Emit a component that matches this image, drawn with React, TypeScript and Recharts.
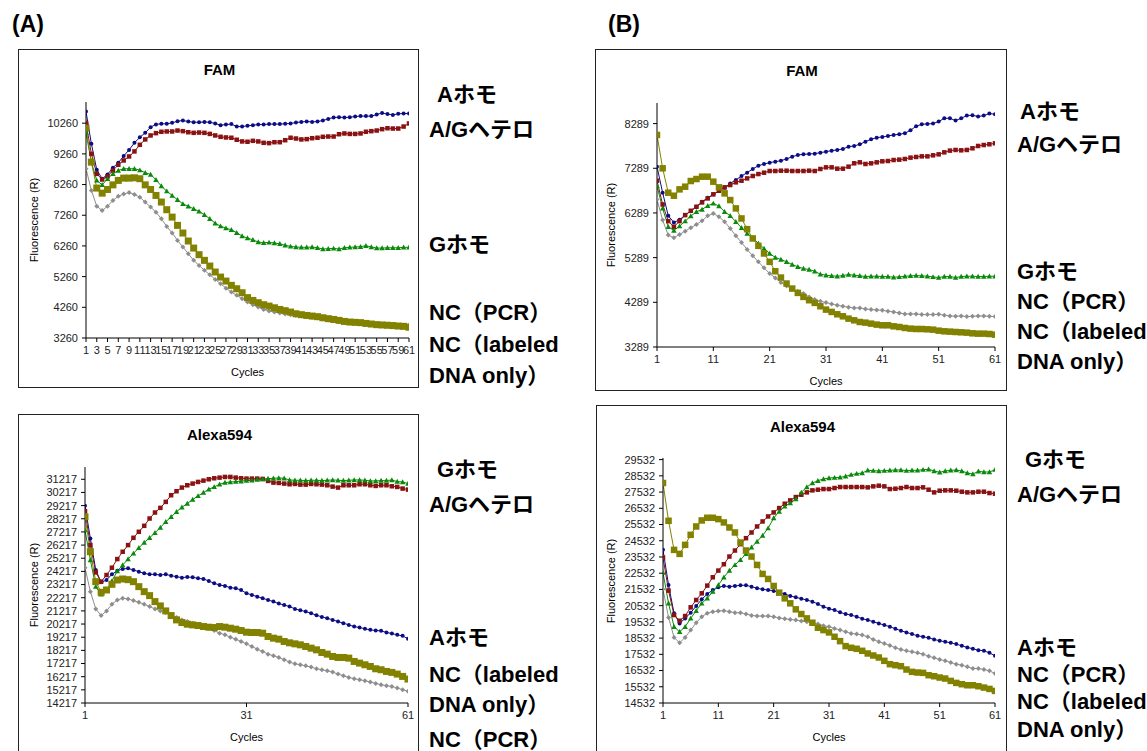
import React from 'react'
import { LineChart, Line, XAxis, YAxis } from 'recharts'

const cycles = Array.from({ length: 61 }, (_, i) => i + 1)

// (A) FAM
const famA_homoA = [
  10640, 9590, 8740, 8450, 8590, 8810, 8970, 9190, 9390, 9620,
  9800, 9945, 10130, 10220, 10240, 10240, 10270, 10325, 10345, 10315,
  10290, 10290, 10300, 10290, 10250, 10195, 10215, 10230, 10150, 10150,
  10175, 10195, 10215, 10215, 10230, 10230, 10230, 10240, 10250, 10280,
  10300, 10315, 10300, 10315, 10345, 10400, 10445, 10455, 10445, 10455,
  10475, 10490, 10490, 10490, 10540, 10595, 10555, 10530, 10565, 10575, 10575,
]
const famA_hetero = [
  10270, 9260, 8610, 8425, 8525, 8720, 8905, 9045, 9175, 9340,
  9555, 9730, 9860, 9935, 9980, 9990, 9990, 10020, 10000, 9965,
  9945, 9955, 9945, 9910, 9860, 9815, 9795, 9785, 9720, 9665,
  9655, 9685, 9665, 9620, 9610, 9640, 9640, 9705, 9785, 9760,
  9730, 9740, 9770, 9785, 9815, 9825, 9825, 9900, 9925, 9910,
  9910, 9925, 9980, 10000, 10020, 10065, 10095, 10085, 10085, 10150, 10250,
]
const famA_homoG = [
  9945, 8990, 8395, 8250, 8450, 8610, 8720, 8775, 8775, 8775,
  8730, 8645, 8590, 8415, 8210, 8045, 7905, 7765, 7630, 7555,
  7470, 7385, 7275, 7145, 7000, 6905, 6840, 6785, 6690, 6580,
  6515, 6460, 6385, 6365, 6375, 6355, 6330, 6280, 6245, 6225,
  6215, 6215, 6225, 6200, 6160, 6170, 6180, 6160, 6200, 6215,
  6225, 6235, 6265, 6225, 6190, 6190, 6200, 6200, 6200, 6215, 6215,
]
const famA_ncPcr = [
  8775, 8070, 7555, 7415, 7555, 7740, 7880, 7950, 8000, 7935,
  7850, 7690, 7525, 7360, 7145, 6895, 6680, 6440, 6225, 6005,
  5790, 5625, 5465, 5320, 5170, 5030, 4885, 4755, 4650, 4540,
  4430, 4345, 4270, 4190, 4140, 4105, 4075, 4040, 4020, 3995,
  3975, 3955, 3930, 3910, 3880, 3845, 3825, 3790, 3770, 3760,
  3750, 3735, 3715, 3705, 3695, 3685, 3675, 3675, 3675, 3675, 3675,
]
const famA_ncLabeled = [
  10100, 8990, 8145, 7980, 8100, 8250, 8395, 8470, 8470, 8480,
  8450, 8250, 8100, 7905, 7690, 7440, 7200, 6930, 6680, 6420,
  6190, 5975, 5790, 5605, 5410, 5245, 5115, 4975, 4865, 4735,
  4575, 4485, 4410, 4345, 4300, 4245, 4190, 4150, 4105, 4050,
  4020, 3995, 3975, 3955, 3920, 3890, 3865, 3835, 3800, 3780,
  3770, 3760, 3735, 3715, 3695, 3685, 3675, 3665, 3650, 3640, 3610,
]

// (B) FAM
const famB_homoA = [
  7325, 6742, 6226, 6077, 6137, 6241, 6331, 6428, 6540, 6630,
  6705, 6779, 6854, 6951, 7026, 7116, 7190, 7273, 7347, 7385,
  7415, 7437, 7459, 7497, 7549, 7586, 7601, 7609, 7616, 7639,
  7661, 7684, 7699, 7721, 7773, 7788, 7826, 7885, 7938, 7975,
  7990, 8012, 8035, 8050, 8072, 8140, 8229, 8274, 8282, 8289,
  8334, 8409, 8409, 8356, 8409, 8468, 8476, 8446, 8468, 8513, 8498,
]
const famB_hetero = [
  7011, 6480, 6106, 5980, 6106, 6241, 6338, 6428, 6525, 6615,
  6705, 6787, 6862, 6914, 6974, 7011, 7063, 7116, 7160, 7190,
  7228, 7228, 7235, 7235, 7228, 7228, 7228, 7235, 7228, 7273,
  7310, 7310, 7280, 7280, 7325, 7400, 7422, 7385, 7400, 7422,
  7445, 7452, 7474, 7482, 7497, 7527, 7542, 7556, 7556, 7579,
  7601, 7646, 7684, 7699, 7691, 7699, 7736, 7788, 7810, 7826, 7848,
]
const famB_homoG = [
  6899, 6391, 5980, 5897, 5994, 6106, 6219, 6316, 6368, 6450,
  6503, 6443, 6316, 6226, 6092, 5957, 5830, 5733, 5606, 5494,
  5382, 5292, 5247, 5195, 5135, 5083, 5045, 5023, 4985, 4918,
  4896, 4881, 4873, 4888, 4911, 4896, 4881, 4866, 4873, 4873,
  4866, 4866, 4851, 4858, 4873, 4881, 4888, 4881, 4873, 4858,
  4843, 4866, 4866, 4843, 4866, 4873, 4873, 4866, 4866, 4873, 4873,
]
const famB_ncPcr = [
  6592, 6129, 5793, 5733, 5808, 5882, 5957, 6032, 6114, 6226,
  6278, 6204, 6092, 5942, 5778, 5628, 5471, 5329, 5195, 5060,
  4933, 4836, 4732, 4657, 4582, 4537, 4485, 4410, 4350, 4313,
  4283, 4253, 4223, 4201, 4178, 4163, 4163, 4141, 4126, 4119,
  4111, 4089, 4074, 4051, 4029, 4029, 4029, 4014, 4014, 4014,
  4021, 3999, 3984, 3976, 3984, 3969, 3976, 3984, 3984, 3976, 3969,
]
const famB_ncLabeled = [
  8035, 7288, 6742, 6675, 6817, 6877, 7004, 7048, 7101, 7101,
  6989, 6862, 6727, 6578, 6391, 6166, 5927, 5718, 5553, 5382,
  5195, 4985, 4843, 4709, 4597, 4500, 4410, 4336, 4276, 4201,
  4126, 4074, 4021, 3976, 3924, 3886, 3849, 3834, 3812, 3790,
  3775, 3775, 3752, 3737, 3715, 3700, 3692, 3692, 3685, 3677,
  3655, 3640, 3633, 3625, 3618, 3610, 3595, 3588, 3588, 3580, 3565,
]

// (A) Alexa594
const alexaA_homoA = [
  29196, 26720, 24320, 23386, 23563, 23993, 24270, 24397, 24447, 24320,
  24195, 24068, 23993, 23993, 23942, 23993, 23891, 23816, 23740, 23790,
  23765, 23690, 23640, 23487, 23310, 23185, 23108, 22982, 22932, 22806,
  22553, 22427, 22300, 22174, 22048, 21921, 21770, 21668, 21543, 21366,
  21264, 21163, 21037, 20885, 20760, 20658, 20532, 20406, 20280, 20153,
  20027, 19951, 19850, 19775, 19724, 19699, 19573, 19497, 19396, 19320, 19092,
]
const alexaA_hetero = [
  28792, 26215, 24144, 23437, 23942, 24498, 25154, 25710, 26215, 26771,
  27226, 27680, 28236, 28691, 29045, 29499, 30005, 30308, 30586, 30762,
  30889, 31015, 31116, 31217, 31293, 31343, 31394, 31394, 31343, 31293,
  31268, 31268, 31268, 31242, 31091, 30964, 30939, 30889, 30838, 30863,
  30813, 30813, 30863, 30838, 30813, 30762, 30661, 30586, 30762, 30762,
  30762, 30838, 30838, 30762, 30712, 30762, 30762, 30687, 30636, 30510, 30434,
]
const alexaA_homoG = [
  27352, 25079, 23058, 22477, 22755, 23487, 24245, 24700, 25154, 25584,
  26013, 26417, 26771, 27150, 27554, 27984, 28363, 28742, 29095, 29373,
  29676, 29954, 30207, 30459, 30636, 30838, 30964, 31015, 31040, 31065,
  31116, 31141, 31192, 31242, 31268, 31293, 31318, 31293, 31166, 31141,
  31141, 31116, 31141, 31141, 31116, 31141, 31166, 31141, 31116, 31141,
  31166, 31166, 31141, 31091, 31091, 31116, 31116, 31166, 31040, 31015, 30889,
]
const alexaA_ncPcr = [
  24498, 22679, 21365, 20860, 21214, 21719, 22048, 22174, 22124, 21997,
  21871, 21719, 21543, 21365, 21214, 21088, 20911, 20709, 20532, 20406,
  20280, 20153, 20027, 19901, 19724, 19522, 19396, 19218, 19067, 18890,
  18713, 18511, 18309, 18132, 17930, 17804, 17677, 17500, 17323, 17197,
  17121, 17045, 16944, 16818, 16743, 16667, 16566, 16414, 16288, 16162,
  16061, 15985, 15910, 15809, 15708, 15606, 15531, 15480, 15354, 15228, 15101,
]
const alexaA_ncLabeled = [
  28363, 25710, 23437, 22629, 22806, 23235, 23563, 23640, 23589, 23437,
  23058, 22679, 22376, 21921, 21593, 21214, 20860, 20532, 20330, 20204,
  20153, 20103, 20027, 19977, 19951, 20027, 19977, 19901, 19825, 19724,
  19597, 19573, 19573, 19522, 19269, 19143, 19067, 18890, 18789, 18713,
  18637, 18511, 18385, 18258, 18056, 17930, 17753, 17677, 17677, 17627,
  17374, 17248, 17121, 16995, 16818, 16743, 16616, 16541, 16414, 16237, 16035,
]

// (B) Alexa594
const alexaB_homoA = [
  23970, 21807, 20056, 19438, 19747, 20097, 20509, 20921, 21251, 21498,
  21663, 21745, 21704, 21745, 21786, 21786, 21704, 21601, 21539, 21498,
  21436, 21354, 21251, 21127, 21045, 20962, 20880, 20777, 20633, 20468,
  20344, 20262, 20118, 20015, 19953, 19850, 19726, 19644, 19541, 19438,
  19335, 19232, 19108, 18985, 18882, 18779, 18676, 18614, 18552, 18449,
  18367, 18305, 18243, 18161, 18058, 17955, 17872, 17790, 17749, 17625, 17440,
]
const alexaB_hetero = [
  23496, 21457, 19953, 19603, 19891, 20427, 20880, 21292, 21766, 22281,
  22693, 23084, 23558, 23929, 24320, 24691, 25041, 25412, 25721, 26030,
  26277, 26545, 26813, 27019, 27225, 27369, 27513, 27637, 27678, 27719,
  27719, 27781, 27843, 27843, 27843, 27843, 27843, 27822, 27884, 27925,
  27884, 27719, 27740, 27781, 27843, 27781, 27781, 27822, 27678, 27513,
  27616, 27637, 27637, 27616, 27554, 27513, 27513, 27554, 27554, 27472, 27431,
]
const alexaB_homoG = [
  22569, 20674, 19232, 18923, 19232, 19747, 20221, 20674, 20983, 21395,
  21807, 22281, 22693, 23043, 23352, 23723, 24135, 24485, 24856, 25309,
  25927, 26339, 26648, 26854, 27101, 27513, 27843, 28090, 28234, 28337,
  28399, 28420, 28440, 28502, 28605, 28667, 28708, 28873, 28852, 28832,
  28852, 28873, 28893, 28893, 28852, 28873, 28873, 28914, 28935, 28832,
  28749, 28832, 28873, 28893, 28832, 28708, 28646, 28811, 28770, 28770, 28914,
]
const alexaB_ncPcr = [
  21539, 19809, 18573, 18244, 18573, 19026, 19479, 19850, 20056, 20159,
  20200, 20221, 20159, 20097, 20097, 20015, 19932, 19891, 19891, 19891,
  19850, 19768, 19726, 19685, 19644, 19582, 19541, 19479, 19397, 19294,
  19232, 19129, 19026, 18923, 18820, 18779, 18717, 18614, 18449, 18305,
  18202, 18079, 17934, 17831, 17749, 17687, 17625, 17543, 17419, 17316,
  17213, 17131, 17028, 16925, 16863, 16760, 16657, 16657, 16595, 16513, 16348,
]
const alexaB_ncLabeled = [
  28090, 25762, 23970, 23723, 24279, 24897, 25412, 25783, 25948, 25948,
  25865, 25659, 25350, 25041, 24423, 23929, 23558, 23043, 22487, 22178,
  21745, 21333, 20983, 20674, 20303, 20015, 19747, 19479, 19170, 19026,
  18882, 18614, 18346, 18037, 17934, 17872, 17749, 17584, 17460, 17336,
  17131, 16925, 16863, 16801, 16595, 16451, 16410, 16389, 16245, 16183,
  16101, 16039, 15895, 15771, 15689, 15627, 15627, 15565, 15483, 15400, 15277,
]

// axis ticks
const famA_yTicks = [3260, 4260, 5260, 6260, 7260, 8260, 9260, 10260]
const famB_yTicks = [3289, 4289, 5289, 6289, 7289, 8289]
const alexaA_yTicks = [
  14217, 15217, 16217, 17217, 18217, 19217, 20217, 21217, 22217,
  23217, 24217, 25217, 26217, 27217, 28217, 29217, 30217, 31217,
]
const alexaB_yTicks = [
  14532, 15532, 16532, 17532, 18532, 19532, 20532, 21532,
  22532, 23532, 24532, 25532, 26532, 27532, 28532, 29532,
]
const oddCycleTicks = cycles.filter(c => c % 2 === 1)
const tenCycleTicks = [1, 11, 21, 31, 41, 51, 61]
const thirtyCycleTicks = [1, 31, 61]

const NAVY = '#0c0c84'
const MAROON = '#8a1212'
const GREEN = '#0a8a0a'
const OLIVE = '#828200'
const GRAY = '#8e8e8e'

const tickFont = "'Liberation Sans', Arial, sans-serif"
const labelFont = "'Liberation Sans', Arial, 'Noto Sans CJK JP', sans-serif"

type Shape = 'circle' | 'square' | 'triangle' | 'diamond'

function makeDot(shape: Shape, size: number, color: string) {
  return (props: any) => {
    const { cx, cy, index } = props
    if (cx == null || cy == null) return <g key={index} />
    const h = size / 2
    if (shape === 'circle') return <circle key={index} cx={cx} cy={cy} r={h} fill={color} />
    if (shape === 'square')
      return <rect key={index} x={cx - h} y={cy - h} width={size} height={size} fill={color} />
    if (shape === 'triangle')
      return (
        <polygon
          key={index}
          points={`${cx},${cy - h} ${cx + h},${cy + h * 0.8} ${cx - h},${cy + h * 0.8}`}
          fill={color}
        />
      )
    return (
      <polygon
        key={index}
        points={`${cx},${cy - h} ${cx + h},${cy} ${cx},${cy + h} ${cx - h},${cy}`}
        fill={color}
      />
    )
  }
}

interface Rect { l: number; t: number; r: number; b: number }

interface PanelProps {
  title: string
  box: Rect
  plot: Rect
  domain: [number, number]
  yTicks: number[]
  xTicks: number[]
  homoA: number[]
  hetero: number[]
  homoG: number[]
  ncPcr: number[]
  ncLabeled: number[]
  oliveSize: number
  titleY: number
  cyclesY: number
  yLabelX: number
}

function Panel(p: PanelProps) {
  const data = cycles.map((c, i) => ({
    cycle: c,
    homoA: p.homoA[i],
    hetero: p.hetero[i],
    homoG: p.homoG[i],
    ncPcr: p.ncPcr[i],
    ncLabeled: p.ncLabeled[i],
  }))
  const w = p.box.r - p.box.l
  const h = p.box.b - p.box.t
  const xAxisH = 24
  const plotCx = (p.plot.l + p.plot.r) / 2
  const plotCy = (p.plot.t + p.plot.b) / 2
  const boxCx = (p.box.l + p.box.r) / 2
  const textBase: React.CSSProperties = {
    position: 'absolute',
    whiteSpace: 'nowrap',
    transform: 'translate(-50%, -50%)',
    lineHeight: 1,
    color: '#000',
  }
  return (
    <>
      <div
        style={{
          position: 'absolute', left: p.box.l, top: p.box.t, width: w, height: h,
          border: '1.5px solid #222', boxSizing: 'border-box', background: '#fff',
        }}
      />
      <div style={{ position: 'absolute', left: p.box.l, top: p.box.t }}>
        <LineChart
          width={w}
          height={h}
          data={data}
          margin={{
            top: p.plot.t - p.box.t,
            right: p.box.r - p.plot.r,
            bottom: p.box.b - p.plot.b - xAxisH,
            left: 0,
          }}
        >
          <XAxis
            dataKey="cycle"
            type="number"
            domain={[1, 61]}
            ticks={p.xTicks}
            interval={0}
            height={xAxisH}
            tickSize={4}
            tickMargin={4}
            stroke="#000"
            tick={{ fontSize: 11, fill: '#222', fontFamily: tickFont }}
            allowDataOverflow
          />
          <YAxis
            type="number"
            domain={p.domain}
            ticks={p.yTicks}
            interval={0}
            width={p.plot.l - p.box.l}
            tickSize={4}
            tickMargin={4}
            stroke="#000"
            tick={{ fontSize: 11, fill: '#222', fontFamily: tickFont }}
            allowDataOverflow
          />
          <Line dataKey="homoA" stroke={NAVY} strokeWidth={1} dot={makeDot('circle', 4, NAVY)} isAnimationActive={false} />
          <Line dataKey="hetero" stroke={MAROON} strokeWidth={1} dot={makeDot('square', 4.5, MAROON)} isAnimationActive={false} />
          <Line dataKey="homoG" stroke={GREEN} strokeWidth={1} dot={makeDot('triangle', 5.5, GREEN)} isAnimationActive={false} />
          <Line dataKey="ncPcr" stroke={GRAY} strokeWidth={1} dot={makeDot('diamond', 5, GRAY)} isAnimationActive={false} />
          <Line dataKey="ncLabeled" stroke={OLIVE} strokeWidth={1} dot={makeDot('square', p.oliveSize, OLIVE)} isAnimationActive={false} />
        </LineChart>
      </div>
      <div style={{ ...textBase, left: boxCx + 1, top: p.titleY, fontSize: 15, fontWeight: 'bold', fontFamily: labelFont }}>
        {p.title}
      </div>
      <div style={{ ...textBase, left: plotCx, top: p.cyclesY, fontSize: 11, fontFamily: tickFont }}>Cycles</div>
      <div
        style={{
          ...textBase, left: p.yLabelX, top: plotCy,
          transform: 'translate(-50%, -50%) rotate(-90deg)', fontSize: 11, fontFamily: tickFont,
        }}
      >
        Fluorescence (R)
      </div>
    </>
  )
}

function SideLabel({ x, y, text }: { x: number; y: number; text: string }) {
  return (
    <div
      style={{
        position: 'absolute', left: x, top: y, transform: 'translateY(-50%)', whiteSpace: 'nowrap',
        fontSize: 22, fontWeight: 'bold', fontFamily: labelFont, lineHeight: 1, color: '#000',
      }}
    >
      {text}
    </div>
  )
}

const panelLetter: React.CSSProperties = {
  position: 'absolute', top: 24, transform: 'translateY(-50%)', fontSize: 23,
  fontWeight: 'bold', fontFamily: labelFont, lineHeight: 1,
}

export default function App() {
  return (
    <div
      style={{
        position: 'absolute', left: 0, top: 0, width: 1147, height: 751,
        overflow: 'hidden', background: '#fff',
      }}
    >
      <div style={{ ...panelLetter, left: 12 }}>(A)</div>
      <div style={{ ...panelLetter, left: 608 }}>(B)</div>

      <Panel
        title="FAM"
        box={{ l: 18, t: 49, r: 419, b: 388 }}
        plot={{ l: 86, t: 102, r: 409, b: 338 }}
        domain={[3260, 10950]}
        yTicks={famA_yTicks}
        xTicks={oddCycleTicks}
        homoA={famA_homoA}
        hetero={famA_hetero}
        homoG={famA_homoG}
        ncPcr={famA_ncPcr}
        ncLabeled={famA_ncLabeled}
        oliveSize={7}
        titleY={69}
        cyclesY={372}
        yLabelX={34}
      />
      <Panel
        title="FAM"
        box={{ l: 595, t: 49, r: 1007, b: 391 }}
        plot={{ l: 657, t: 103, r: 995, b: 347 }}
        domain={[3289, 8750]}
        yTicks={famB_yTicks}
        xTicks={tenCycleTicks}
        homoA={famB_homoA}
        hetero={famB_hetero}
        homoG={famB_homoG}
        ncPcr={famB_ncPcr}
        ncLabeled={famB_ncLabeled}
        oliveSize={6.5}
        titleY={70}
        cyclesY={381}
        yLabelX={611}
      />
      <Panel
        title="Alexa594"
        box={{ l: 18, t: 414, r: 419, b: 780 }}
        plot={{ l: 85, t: 467, r: 408, b: 703 }}
        domain={[14217, 32150]}
        yTicks={alexaA_yTicks}
        xTicks={thirtyCycleTicks}
        homoA={alexaA_homoA}
        hetero={alexaA_hetero}
        homoG={alexaA_homoG}
        ncPcr={alexaA_ncPcr}
        ncLabeled={alexaA_ncLabeled}
        oliveSize={7}
        titleY={434}
        cyclesY={737}
        yLabelX={34}
      />
      <Panel
        title="Alexa594"
        box={{ l: 596, t: 405, r: 1007, b: 780 }}
        plot={{ l: 663, t: 458, r: 995, b: 703 }}
        domain={[14532, 29632]}
        yTicks={alexaB_yTicks}
        xTicks={tenCycleTicks}
        homoA={alexaB_homoA}
        hetero={alexaB_hetero}
        homoG={alexaB_homoG}
        ncPcr={alexaB_ncPcr}
        ncLabeled={alexaB_ncLabeled}
        oliveSize={6.5}
        titleY={426}
        cyclesY={737}
        yLabelX={611}
      />

      <SideLabel x={437} y={95} text="Aホモ" />
      <SideLabel x={429} y={130} text="A/Gヘテロ" />
      <SideLabel x={429} y={245} text="Gホモ" />
      <SideLabel x={429} y={313} text="NC（PCR）" />
      <SideLabel x={429} y={345} text="NC（labeled" />
      <SideLabel x={429} y={376} text="DNA only）" />

      <SideLabel x={1020} y={112} text="Aホモ" />
      <SideLabel x={1017} y={145} text="A/Gヘテロ" />
      <SideLabel x={1017} y={272} text="Gホモ" />
      <SideLabel x={1017} y={302} text="NC（PCR）" />
      <SideLabel x={1017} y={332} text="NC（labeled" />
      <SideLabel x={1017} y={362} text="DNA only）" />

      <SideLabel x={437} y={470} text="Gホモ" />
      <SideLabel x={429} y={505} text="A/Gヘテロ" />
      <SideLabel x={429} y={638} text="Aホモ" />
      <SideLabel x={429} y={675} text="NC（labeled" />
      <SideLabel x={429} y={705} text="DNA only）" />
      <SideLabel x={429} y={740} text="NC（PCR）" />

      <SideLabel x={1025} y={460} text="Gホモ" />
      <SideLabel x={1017} y={495} text="A/Gヘテロ" />
      <SideLabel x={1017} y={648} text="Aホモ" />
      <SideLabel x={1017} y={675} text="NC（PCR）" />
      <SideLabel x={1017} y={702} text="NC（labeled" />
      <SideLabel x={1017} y={730} text="DNA only）" />
    </div>
  )
}
